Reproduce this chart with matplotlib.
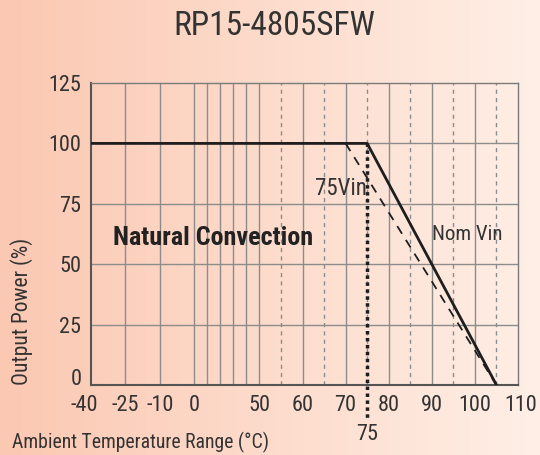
import numpy as np
import matplotlib
matplotlib.use("Agg")
import matplotlib.pyplot as plt
import matplotlib.transforms as mtrans
from matplotlib import font_manager

# pick a narrow font if we have one
names = {f.name for f in font_manager.fontManager.ttflist}
FONT = "DejaVu Sans"
for cand in ["Roboto Condensed", "Liberation Sans Narrow", "Open Sans Condensed",
             "DejaVu Sans Condensed", "Roboto", "Liberation Sans"]:
    if cand in names:
        FONT = cand
        break
plt.rcParams['font.family'] = [FONT, 'DejaVu Sans']

TITLE = "RP15-4805SFW"

# derating curves (temperature degC, output power %)
nom_t = [-40, 75, 105]
nom_p = [100, 100, 0]
low_t = [70, 105]
low_p = [100, 0]

xticks = [-40, -25, -10, 0, 50, 60, 70, 80, 90, 100, 110]
yticks = [0, 25, 50, 75, 100, 125]
solid_x = [-25, -10, 0, 10, 20, 30, 40, 50, 60, 70, 80, 90, 100]
dashed_x = [55, 65, 75, 85, 95, 105]

# non-linear x axis as in the datasheet
xp = [-40, -25, -10, 0, 50, 110]
fp = [0, 34.3, 69.3, 103.3, 168.3, 426.7]
fwd = lambda x: np.interp(x, xp, fp)
inv = lambda y: np.interp(y, fp, xp)

fig = plt.figure(figsize=(5.4, 4.55), dpi=100)

# background gradient
bg = fig.add_axes([0, 0, 1, 1], zorder=-1)
grad = np.linspace(0, 1, 256)
c0 = np.array([251, 200, 178]) / 255
c1 = np.array([255, 239, 230]) / 255
img = c0[None, :] * (1 - grad[:, None]) + c1[None, :] * grad[:, None]
bg.imshow(img[None, :, :], aspect='auto', extent=[0, 1, 0, 1])
bg.axis('off')

ax = fig.add_axes([91/540, 1 - 385/455, 427/540, 302/455])
ax.set_facecolor('none')
ax.set_xscale('function', functions=(fwd, inv))
ax.set_xlim(-40, 110)
ax.set_ylim(0, 125)

for x in solid_x:
    ax.axvline(x, color='#8c8c8c', lw=1.0, zorder=1)
for x in dashed_x:
    ax.axvline(x, color='#8c8c8c', lw=1.0, ls=(0, (3, 3)), zorder=1)
for y in yticks[1:-1]:
    ax.axhline(y, color='#8c8c8c', lw=1.0, zorder=1)

ax.plot(nom_t, nom_p, color='#1e1e1e', lw=2.0, zorder=3)
ax.plot(low_t, low_p, color='#1e1e1e', lw=1.3, ls=(0, (5, 4)), zorder=3)
ax.plot([75, 75], [100, -14.5], color='#1e1e1e', lw=2.5, ls=(0, (1, 1)),
        clip_on=False, zorder=4)

for s in ['top', 'right']:
    ax.spines[s].set_color('#7a7a7a')
    ax.spines[s].set_linewidth(1.0)
for s in ['left', 'bottom']:
    ax.spines[s].set_color('#555555')
    ax.spines[s].set_linewidth(1.5)

ax.set_xticks(xticks)
ax.set_xticklabels([str(t) for t in xticks])
ax.set_yticks(yticks)
ax.tick_params(length=0, labelsize=16, labelcolor='#333333', pad=7)
ax.minorticks_off()

# a few labels sit slightly off their grid lines in the original
def nudge(lbl, dx, dy):
    lbl.set_transform(lbl.get_transform() +
                      mtrans.ScaledTranslation(dx / 100, dy / 100, fig.dpi_scale_trans))

xl = ax.get_xticklabels()
nudge(xl[0], -7, 0)
nudge(xl[-1], 3, 0)
nudge(ax.get_yticklabels()[0], 0, 8)

ax.text(75, -20.5, "75", ha='center', va='center', fontsize=16, color='#333333')
ax.text(75, 81.5, "75Vin", ha='right', va='center', fontsize=16.5, color='#333333')
ax.text(90, 62.5, "Nom Vin", ha='left', va='center', fontsize=15, color='#333333')
ax.text(-30.5, 61, "Natural Convection", ha='left', va='center', fontsize=18.8,
        fontweight='bold', color='#222222')

fig.text(274/540, 1 - 26/455, TITLE, ha='center', va='center', fontsize=24, color='#333333')
fig.text(22/540, 1 - 385/455, "Output Power (%)", rotation=90, ha='center', va='bottom',
         fontsize=15.5, color='#333333')
fig.text(12/540, 1 - 442/455, "Ambient Temperature Range (°C)", ha='left', va='center',
         fontsize=14.2, color='#333333')

fig.savefig("out.png", dpi=100)
